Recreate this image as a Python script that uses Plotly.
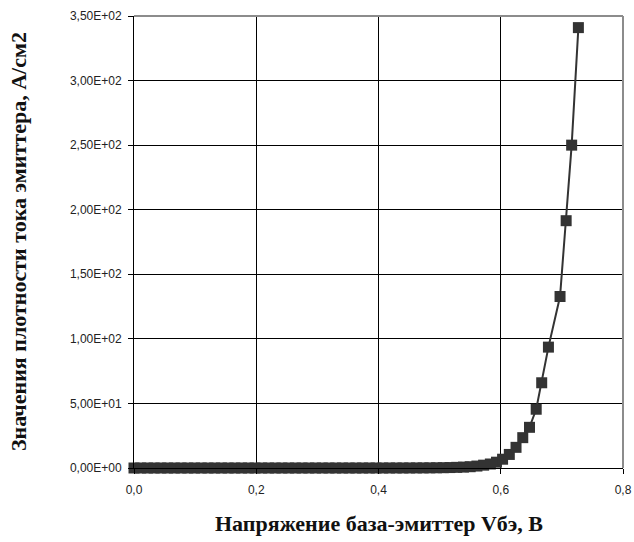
import plotly.graph_objects as go

# Data
vbe = [0.000, 0.011, 0.022, 0.033, 0.044, 0.055, 0.066, 0.077, 0.088, 0.099,
       0.110, 0.121, 0.132, 0.143, 0.154, 0.165, 0.176, 0.187, 0.198, 0.209,
       0.220, 0.231, 0.242, 0.253, 0.264, 0.275, 0.286, 0.297, 0.308, 0.319,
       0.330, 0.341, 0.352, 0.363, 0.374, 0.385, 0.396, 0.407, 0.418, 0.429,
       0.440, 0.451, 0.462, 0.473, 0.484, 0.495, 0.506, 0.517, 0.528, 0.539,
       0.550, 0.561, 0.572, 0.583, 0.593, 0.603, 0.614, 0.625, 0.636, 0.647,
       0.658, 0.667, 0.678, 0.697, 0.707, 0.716, 0.727]
current_density = [0.0, 0.0, 0.0, 0.0, 0.0, 0.0, 0.0, 0.0, 0.0, 0.0,
                   0.0, 0.0, 0.0, 0.0, 0.0, 0.0, 0.0, 0.0, 0.0, 0.0,
                   0.0, 0.0, 0.0, 0.0, 0.0, 0.0, 0.0, 0.0, 0.0, 0.0,
                   0.0, 0.0, 0.0, 0.0, 0.01, 0.01, 0.01, 0.01, 0.02, 0.02,
                   0.03, 0.04, 0.06, 0.08, 0.12, 0.17, 0.24, 0.34, 0.5, 0.7,
                   1.0, 1.5, 2.2, 3.1, 4.5, 6.8, 10.5, 16.0, 23.5, 31.5,
                   45.5, 66.0, 93.6, 132.8, 191.5, 250.0, 341.0]

y_tickvals = [0, 50, 100, 150, 200, 250, 300, 350]
y_ticktext = ["0,00E+00", "5,00E+01", "1,00E+02", "1,50E+02", "2,00E+02",
              "2,50E+02", "3,00E+02", "3,50E+02"]
x_tickvals = [0.0, 0.2, 0.4, 0.6, 0.8]
x_ticktext = ["0,0", "0,2", "0,4", "0,6", "0,8"]

x_title = "Напряжение база-эмиттер Vбэ, В"
y_title = "Значения плотности тока эмиттера, А/см2"

fig = go.Figure()
fig.add_trace(go.Scatter(
    x=vbe, y=current_density, mode="lines+markers",
    line=dict(color="#333333", width=2),
    marker=dict(symbol="square", size=11, color="#333333"),
    cliponaxis=False,
    showlegend=False, hoverinfo="x+y",
))

tick_font = dict(family="Liberation Sans, Arial, sans-serif", size=12, color="#222222")
title_font = dict(family="Liberation Serif, Times New Roman, serif", size=22, color="#111111")

fig.update_layout(
    width=634, height=542,
    margin=dict(l=134, r=11, t=16, b=74),
    paper_bgcolor="white", plot_bgcolor="white",
    xaxis=dict(range=[0, 0.8], tickvals=x_tickvals, ticktext=x_ticktext,
               showgrid=True, gridcolor="black", gridwidth=1,
               showline=True, linecolor="black", linewidth=1,
               ticks="outside", ticklen=5, tickcolor="black", automargin=False,
               zeroline=False, tickfont=tick_font, ticklabelstandoff=6),
    yaxis=dict(range=[0, 350], tickvals=y_tickvals, ticktext=y_ticktext,
               showgrid=True, gridcolor="black", gridwidth=1,
               showline=True, linecolor="black", linewidth=1,
               ticks="outside", ticklen=5, tickcolor="black", automargin=False,
               zeroline=False, tickfont=tick_font, ticklabelstandoff=4),
    annotations=[
        dict(text="<b>" + x_title + "</b>", xref="paper", yref="paper",
             x=0.5, y=-0.122, xanchor="center", yanchor="middle",
             showarrow=False, font=title_font),
        dict(text="<b>" + y_title + "</b>", xref="paper", yref="paper",
             x=-0.237, y=0.5, xanchor="center", yanchor="middle",
             textangle=-90, showarrow=False, font=title_font),
    ],
    shapes=[
        dict(type="line", xref="paper", yref="paper", x0=0, x1=1, y0=1, y1=1,
             line=dict(color="#8c8c8c", width=2), layer="above"),
        dict(type="line", xref="paper", yref="paper", x0=1, x1=1, y0=0, y1=1,
             line=dict(color="#8c8c8c", width=2), layer="above"),
    ],
)

fig.write_html("out.html")
